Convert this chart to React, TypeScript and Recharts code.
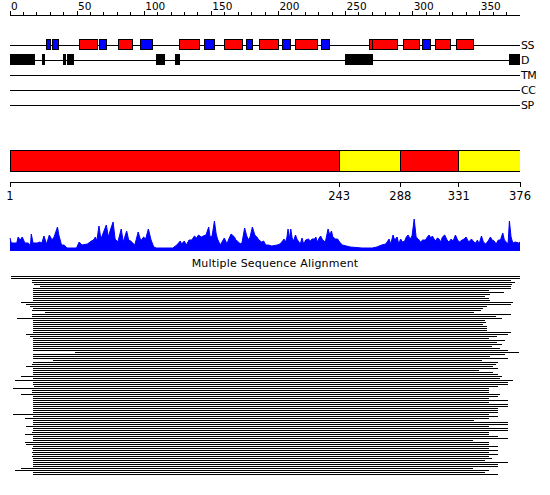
import { ComposedChart, BarChart, AreaChart, Bar, Area, Cell, XAxis, YAxis, CartesianGrid } from 'recharts';

const FONT = '"DejaVu Sans", sans-serif';
const RED = '#ff0000';
const BLUE = '#0000ff';
const YELLOW = '#ffff00';

// top ruler + feature tracks
const rulerTicks = [0, 10, 20, 30, 40, 50, 60, 70, 80, 90, 100, 110, 120, 130, 140, 150, 160, 170, 180, 190, 200, 210, 220, 230, 240, 250, 260, 270, 280, 290, 300, 310, 320, 330, 340, 350, 360, 370];
const trackNames = ['SS', 'D', 'TM', 'CC', 'SP'];

// secondary structure: H = helix (red), E = strand (blue)
const ssFrom = [27, 32, 52, 67, 81, 97, 126, 145, 160, 176, 186, 203, 213, 232, 268, 270, 293, 307, 317, 333];
const ssTo = [30, 36, 65, 72, 91, 106, 141, 152, 173, 181, 200, 209, 229, 238, 270, 289, 305, 313, 328, 345];
const ssKind = ['E', 'E', 'H', 'E', 'H', 'E', 'H', 'E', 'H', 'E', 'H', 'E', 'H', 'E', 'H', 'H', 'H', 'E', 'H', 'H'];

// disorder
const disFrom = [0, 24, 40, 43, 109, 123, 250, 253, 372];
const disTo = [18, 26, 41, 47, 115, 126, 252, 270, 380];

// domain bar
const domainStart = [1, 243, 288, 331];
const domainEnd = [243, 288, 331, 376];
const domainKind = ['a', 'b', 'a', 'b'];
const domainTicks = [1, 243, 288, 331, 376];

// PS profile
const psPos = [
  0, 1, 5, 6, 7.5, 9, 11, 13.5, 14.5, 15, 15.7, 17, 20, 22, 23.5, 25, 27, 29, 31, 32.5,
  35, 36, 38, 40, 42, 49, 51, 53, 57, 60, 61.5, 63, 64, 65.6, 67, 69, 71, 72.5, 74, 76,
  77.5, 79.5, 82, 83.5, 86, 87.5, 89, 90.5, 92, 94.5, 96, 97, 98.5, 100, 102, 104, 106, 108, 114, 120,
  123, 125.5, 126.5, 128.5, 130, 132, 134, 136, 137.5, 139, 141, 142.5, 144.5, 146.5, 147.5, 149, 150.7, 152, 153, 155,
  158, 160, 161, 163, 165.5, 166.5, 168.5, 169.5, 171, 173, 174.5, 176, 177, 178.7, 180.5, 182, 183.5, 185.5,
  187, 188.5, 190.5, 193, 197, 199, 201, 202, 203.3, 204.2, 205, 206, 207, 208, 209, 210.5, 211.5, 214, 215.3, 216.5,
  218, 220, 221.5, 222.7, 224.5, 225.5, 226.5, 228, 229, 230.5, 232.5, 234.5, 235.7, 237, 238, 240, 241.5, 243, 245, 248,
  251, 259.5, 267, 270.5, 274, 277, 278, 279.5, 280.7, 282.4, 283.6, 285.4, 286.6, 288, 289.3, 291, 292.2, 293.5, 295, 296.4,
  298, 299.4, 301, 302.6, 304.3, 306.3, 307.7, 309, 310.2, 311.4, 312.6, 314, 315, 316.3, 317.6, 318.8, 320.5, 322.2, 323.7, 325.2,
  326.7, 328.4, 330, 331.3, 333.3, 334.8, 336.2, 338.2, 340.2, 342, 343.4, 344.6, 345.8, 347.6, 349, 350.7, 352.5, 354.2, 355.4, 357,
  358.4, 360, 361.6, 363.3, 364.5, 366, 367.2, 368.2, 369.4, 370.7, 372.6, 375, 376,
];
const psVal = [
  13, 8, 8, 14, 11, 14, 8, 8, 6, 4, 17, 8, 8, 9, 8, 15, 7, 16, 11, 14,
  24, 16, 6, 6, 3, 3, 9, 6, 7, 10, 11, 14, 10, 25, 12, 19, 26, 14, 21, 29,
  12, 9, 22, 9, 20, 11, 10, 8, 6, 19, 12, 11, 14, 12, 22, 11, 4, 3, 3, 3,
  6, 10, 7, 10, 6, 11, 11, 15, 13, 16, 14, 15, 16, 24, 14, 15, 30, 17, 12, 6,
  13, 7, 11, 17, 14, 11, 9, 7, 8, 23, 15, 11, 14, 24, 16, 14, 11, 9,
  10, 6, 6, 5, 6, 7, 10, 12, 9, 14, 22, 12, 22, 13, 10, 16, 12, 7, 13, 7,
  11, 12, 10, 12, 12, 14, 9, 13, 15, 11, 9, 22, 16, 20, 14, 12, 12, 9, 6, 5,
  4, 3, 3, 4, 6, 7, 9, 12, 7, 16, 11, 14, 7, 12, 9, 10, 14, 16, 12, 15,
  32, 14, 12, 9, 11, 11, 14, 16, 13, 15, 12, 10, 13, 12, 9, 14, 16, 11, 9, 12,
  10, 16, 11, 9, 11, 12, 14, 9, 12, 9, 8, 11, 7, 15, 9, 7, 10, 14, 11, 10,
  7, 11, 11, 18, 11, 9, 7, 30, 14, 8, 9, 8, 9,
];

// multiple sequence alignment: first / last aligned residue of each hit
const msaStart = [
  1, 1, 16, 16, 18, 22, 17, 17, 17, 17, 17, 17, 17, 8, 12, 15, 17, 16, 26, 16,
  16, 5, 17, 17, 17, 17, 17, 17, 17, 12, 15, 17, 17, 17, 17, 17, 17, 17, 48, 17,
  17, 17, 32, 17, 16, 12, 17, 17, 17, 17, 8, 17, 4, 17, 17, 18, 2, 16, 16, 8,
  17, 17, 17, 17, 17, 17, 17, 17, 17, 2, 17, 11, 17, 17, 17, 12, 17, 17, 16, 11,
  17, 17, 17, 11, 12, 17, 16, 17, 16, 17, 16, 17, 17, 17, 17, 17, 8, 4, 17, 17,
];
const msaEnd = [
  376, 376, 369, 372, 370, 369, 369, 353, 364, 354, 350, 353, 354, 371, 369, 352, 349, 347, 342, 369,
  358, 363, 350, 351, 349, 352, 352, 352, 369, 367, 359, 353, 365, 359, 363, 355, 361, 367, 375, 365,
  354, 367, 348, 360, 358, 356, 360, 346, 356, 360, 363, 361, 371, 367, 367, 360, 353, 353, 353, 361,
  360, 353, 367, 353, 367, 367, 360, 360, 360, 353, 360, 353, 342, 367, 367, 353, 367, 367, 353, 353,
  360, 367, 341, 353, 353, 360, 353, 360, 353, 360, 353, 355, 350, 367, 360, 360, 341, 353, 350, 360,
];

const trackSegs = [
  ...ssFrom.map((f, i) => ({ row: 0, range: [f, ssTo[i]], color: ssKind[i] === 'H' ? RED : BLUE })),
  ...disFrom.map((f, i) => ({ row: 1, range: [f, disTo[i]], color: '#000000' })),
];
const domainSegs = domainStart.map((s, i) => ({ row: 0, range: [s, domainEnd[i]], color: domainKind[i] === 'a' ? RED : YELLOW }));
const psData = psPos.map((p, i) => ({ pos: p, val: psVal[i] }));
const msaRows = msaStart.map((s, i) => ({ seq: `s${i}`, range: [s, msaEnd[i]] }));

function RulerTick(props: any) {
  const { x, y, payload } = props;
  const major = payload.value % 50 === 0;
  return (
    <g>
      <line x1={x} x2={x} y1={y} y2={y - (major ? 4 : 3)} stroke="#000" />
      {major && (
        <text x={x + 1} y={y - 5} fontSize={10.5} fontFamily={FONT} fill="#000">
          {payload.value}
        </text>
      )}
    </g>
  );
}

const crisp = { shapeRendering: 'crispEdges' } as any;

export default function App() {
  return (
    <div style={{ position: 'absolute', left: 0, top: 0, width: 550, height: 495, background: '#fff' }}>
      <div style={{ position: 'absolute', left: 0, top: 0, ...crisp }}>
        <ComposedChart layout="vertical" width={550} height={120} data={trackSegs} margin={{ top: 0, right: 0, bottom: 0, left: 10 }}>
          <CartesianGrid vertical={false} stroke="#000" />
          <XAxis
            type="number"
            orientation="top"
            domain={[0, 380]}
            ticks={rulerTicks}
            interval={0}
            height={15}
            tickSize={0}
            tickMargin={0}
            tickLine={false}
            axisLine={{ stroke: '#000' }}
            tick={<RulerTick />}
            allowDataOverflow
          />
          <YAxis
            type="number"
            dataKey="row"
            orientation="right"
            domain={[-2, 5]}
            ticks={[0, 1, 2, 3, 4]}
            interval={0}
            width={30}
            axisLine={false}
            tickLine={false}
            tickSize={0}
            tickMargin={1}
            tickFormatter={(v: number) => trackNames[v]}
            tick={{ fill: '#000', fontSize: 11, fontFamily: FONT, letterSpacing: -0.5 }}
            allowDataOverflow
          />
          <Bar dataKey="range" barSize={10} stroke="#000" isAnimationActive={false}>
            {trackSegs.map((s, i) => (
              <Cell key={`t-${i}`} fill={s.color} />
            ))}
          </Bar>
        </ComposedChart>
      </div>

      <div style={{ position: 'absolute', left: 0, top: 139, ...crisp }}>
        <BarChart layout="vertical" width={550} height={68} data={domainSegs} margin={{ top: 0, right: 30, bottom: 0, left: 10 }}>
          <XAxis
            type="number"
            domain={[1, 376]}
            ticks={domainTicks}
            interval={0}
            height={25}
            tickSize={5}
            tickMargin={5}
            stroke="#000"
            tick={{ fill: '#000', fontSize: 11.5, fontFamily: FONT }}
            allowDataOverflow
          />
          <YAxis type="number" dataKey="row" domain={[-1, 1]} ticks={[-1, 0, 1]} hide />
          <Bar dataKey="range" barSize={21} stroke="#000" isAnimationActive={false}>
            {domainSegs.map((s, i) => (
              <Cell key={`d-${i}`} fill={s.color} />
            ))}
          </Bar>
        </BarChart>
      </div>

      <div style={{ position: 'absolute', left: 0, top: 210 }}>
        <AreaChart width={550} height={42} data={psData} margin={{ top: 8, right: 0, bottom: 1, left: 10 }}>
          <XAxis type="number" dataKey="pos" domain={[0, 376]} hide />
          <YAxis yAxisId="v" domain={[0, 33]} hide />
          <YAxis
            yAxisId="lbl"
            orientation="right"
            width={30}
            domain={[0, 33]}
            ticks={[25.5]}
            tickFormatter={() => 'PS'}
            axisLine={false}
            tickLine={false}
            tickSize={0}
            tickMargin={1}
            tick={{ fill: '#000', fontSize: 11, fontFamily: FONT, letterSpacing: -0.5 }}
          />
          <Area yAxisId="v" type="linear" dataKey="val" stroke={BLUE} strokeWidth={1} fill={BLUE} fillOpacity={1} dot={false} activeDot={false} isAnimationActive={false} />
        </AreaChart>
      </div>

      <div style={{ position: 'absolute', left: 0, top: 258, width: 550, textAlign: 'center', fontFamily: FONT, fontSize: 11, lineHeight: '12px', letterSpacing: 0.2, color: '#000' }}>
        Multiple Sequence Alignment
      </div>

      <div style={{ position: 'absolute', left: 0, top: 275, ...crisp }}>
        <BarChart layout="vertical" width={550} height={200} data={msaRows} margin={{ top: 0, right: 30, bottom: 0, left: 10 }} barCategoryGap={0}>
          <XAxis type="number" domain={[0, 376]} hide allowDataOverflow />
          <YAxis type="category" dataKey="seq" hide />
          <Bar dataKey="range" barSize={1} fill="#000" isAnimationActive={false} />
        </BarChart>
      </div>
    </div>
  );
}
